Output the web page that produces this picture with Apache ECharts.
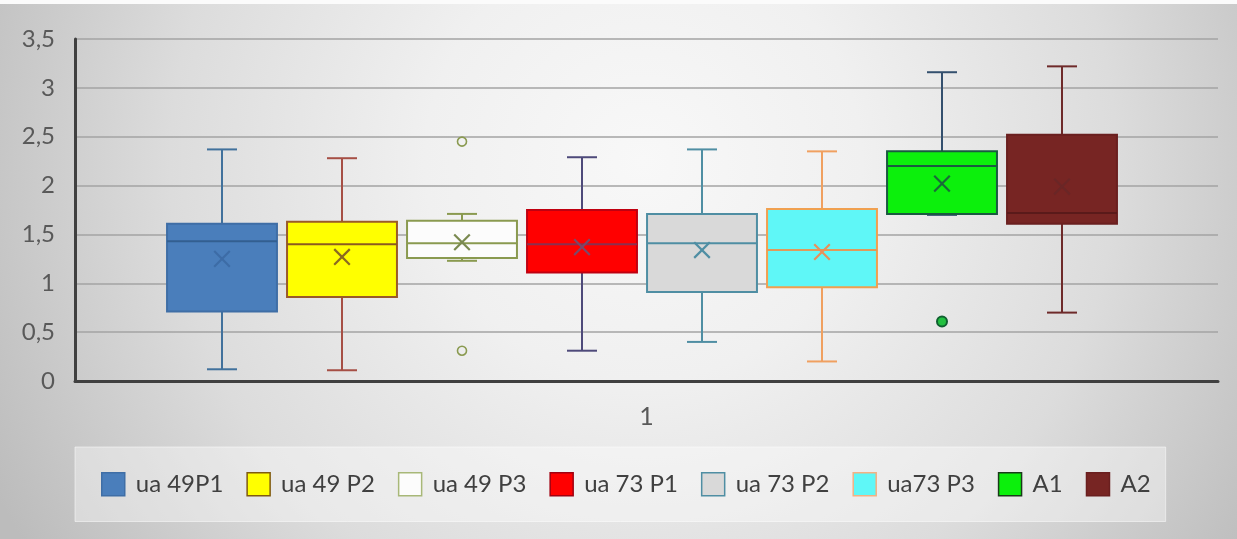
<!DOCTYPE html>
<html>
<head>
<meta charset="utf-8">
<script src="https://cdn.jsdelivr.net/npm/echarts@6/dist/echarts.min.js"></script>
<style>html,body{margin:0;padding:0;}#chart{width:1237px;height:539px;}</style>
</head>
<body>
<div id="chart"></div>
<script>
// ---- data ----
const groups = ['ua 49P1', 'ua 49 P2', 'ua 49 P3', 'ua 73 P1', 'ua 73 P2', 'ua73 P3', 'A1', 'A2'];
const xCategories = ['1'];
const minVals    = [0.12, 0.11, 1.23, 0.31, 0.40, 0.20, 1.70, 0.70];
const q1Vals     = [0.71, 0.86, 1.26, 1.11, 0.91, 0.96, 1.71, 1.61];
const medianVals = [1.43, 1.40, 1.41, 1.40, 1.41, 1.34, 2.20, 1.72];
const q3Vals     = [1.61, 1.63, 1.64, 1.75, 1.71, 1.76, 2.35, 2.52];
const maxVals    = [2.37, 2.28, 1.71, 2.29, 2.37, 2.35, 3.16, 3.22];
const meanVals   = [1.25, 1.27, 1.42, 1.37, 1.34, 1.32, 2.02, 1.99];
const outlierVals = [[], [], [2.45, 0.31], [], [], [], [0.61], []];
const yTicks = [0, 0.5, 1, 1.5, 2, 2.5, 3, 3.5];

// ---- styles ----
const styles = [
  {fill: '#4a7ebb', border: '#3f6ea6', median: '#335f90', mean: '#3d6ca6', whisker: '#41719c'},
  {fill: '#ffff00', border: '#9a5a28', median: '#8b5a20', mean: '#8b6a20', whisker: '#a64f45'},
  {fill: '#fcfcfc', border: '#8a9a50', median: '#8a9a50', mean: '#7a8a50', whisker: '#8a9a50'},
  {fill: '#ff0000', border: '#c00010', median: '#8a3050', mean: '#7a4a6a', whisker: '#4e4a7a'},
  {fill: '#d9d9d9', border: '#4f8ea3', median: '#4f8ea3', mean: '#4f8ea3', whisker: '#4f8ea3'},
  {fill: '#5ff7f7', border: '#f0a050', median: '#e09a5a', mean: '#e8905a', whisker: '#f0a060'},
  {fill: '#0cf00c', border: '#1a5a40', median: '#1a5a40', mean: '#1a6a3a', whisker: '#34506e'},
  {fill: '#772523', border: '#6a1f1f', median: '#5a1a1a', mean: '#6a2626', whisker: '#6e2a2a'}
];
const legendBorders = ['#3f6ea6', '#7f5a10', '#a8b878', '#a00010', '#4f8ea3', '#f4b183', '#1a3a1a', '#6a1f1f'];
const outlierStyles = [null, null,
  {color: 'rgba(255,255,255,0)', borderColor: '#8a9a50', borderWidth: 1.6, size: 9},
  null, null, null,
  {color: '#22c040', borderColor: '#106030', borderWidth: 2, size: 10},
  null];

const fontFam = 'Lato, "Noto Sans", sans-serif';

function makeRender(st) {
  return function (params, api) {
    const k = api.value(0);
    const band = api.size([1, 0])[0];
    const half = band * 0.458, cap = band * 0.125, xh = band * 0.065;
    const c = (v) => api.coord([k, v]);
    const pMin = c(api.value(1)), pQ1 = c(api.value(2)), pMed = c(api.value(3));
    const pQ3 = c(api.value(4)), pMax = c(api.value(5)), pMean = c(api.value(6));
    const x = pMed[0];
    const ws = {stroke: st.whisker, lineWidth: 2};
    const ln = (x1, y1, x2, y2, s) => ({type: 'line', shape: {x1, y1, x2, y2}, style: s});
    return {
      type: 'group',
      children: [
        ln(x, pQ3[1], x, pMax[1], ws),
        ln(x, pQ1[1], x, pMin[1], ws),
        ln(x - cap, pMax[1], x + cap, pMax[1], ws),
        ln(x - cap, pMin[1], x + cap, pMin[1], ws),
        {type: 'rect', shape: {x: x - half, y: pQ3[1], width: half * 2, height: pQ1[1] - pQ3[1]},
         style: {fill: st.fill, stroke: st.border, lineWidth: 2}},
        ln(x - half, pMed[1], x + half, pMed[1], {stroke: st.median, lineWidth: 2}),
        ln(pMean[0] - xh, pMean[1] - xh, pMean[0] + xh, pMean[1] + xh, {stroke: st.mean, lineWidth: 2.2}),
        ln(pMean[0] - xh, pMean[1] + xh, pMean[0] + xh, pMean[1] - xh, {stroke: st.mean, lineWidth: 2.2})
      ]
    };
  };
}

const series = [];
groups.forEach((g, k) => {
  series.push({
    type: 'custom',
    name: g,
    xAxisIndex: 0, yAxisIndex: 0,
    renderItem: makeRender(styles[k]),
    encode: {x: 0, y: [1, 2, 3, 4, 5, 6]},
    itemStyle: {color: styles[k].fill, borderColor: legendBorders[k]},
    data: [[k, minVals[k], q1Vals[k], medianVals[k], q3Vals[k], maxVals[k], meanVals[k]]],
    z: 3
  });
  if (outlierVals[k].length) {
    const os = outlierStyles[k];
    series.push({
      type: 'scatter',
      name: g,
      xAxisIndex: 0, yAxisIndex: 0,
      symbol: 'circle',
      symbolSize: os.size,
      itemStyle: {color: os.color, borderColor: os.borderColor, borderWidth: os.borderWidth, opacity: 1},
      data: outlierVals[k].map(v => [k, v]),
      z: 4
    });
  }
});

const chart = echarts.init(document.getElementById('chart'));
chart.setOption({
  animation: false,
  backgroundColor: {
    type: 'radial', x: 0.52, y: 0.3, r: 1.35,
    colorStops: [
      {offset: 0, color: '#f8f8f8'},
      {offset: 0.3, color: '#f0f0f0'},
      {offset: 0.65, color: '#dcdcdc'},
      {offset: 1, color: '#bcbcbc'}
    ]
  },
  graphic: [{type: 'rect', shape: {x: 0, y: 0, width: 1237, height: 4}, style: {fill: '#fbfbfb'}, z: -1}],
  grid: [
    {left: 162, right: 115, top: 39, bottom: 158},
    {left: 75, right: 19, top: 39, bottom: 158}
  ],
  xAxis: [
    {type: 'category', gridIndex: 0, data: groups, show: false},
    {type: 'category', gridIndex: 1, data: xCategories,
     axisLine: {lineStyle: {color: '#404040', width: 3}},
     axisTick: {show: false},
     axisLabel: {fontSize: 25, color: '#595959', fontFamily: fontFam, margin: 23}}
  ],
  yAxis: [
    {type: 'value', gridIndex: 0, min: 0, max: 3.5, show: false},
    {type: 'value', gridIndex: 1, min: 0, max: 3.5, interval: 0.5,
     axisLine: {show: true, lineStyle: {color: '#404040', width: 3}},
     axisTick: {show: false},
     splitLine: {lineStyle: {color: '#a3a3a3', width: 1.6}},
     axisLabel: {fontSize: 24, color: '#595959', fontFamily: fontFam, margin: 20,
       formatter: v => String(v).replace('.', ',')}}
  ],
  legend: {
    left: 75, top: 447,
    padding: [25, 15, 25, 26],
    backgroundColor: 'rgba(255,255,255,0.38)',
    borderColor: 'rgba(255,255,255,0.5)', borderWidth: 1,
    icon: 'rect',
    itemWidth: 23, itemHeight: 23, itemGap: 23,
    selectedMode: false,
    textStyle: {fontSize: 24, color: '#404040', fontFamily: fontFam, padding: [0, 0, 0, 6]},
    data: groups.map((g, k) => ({
      name: g,
      itemStyle: {color: styles[k].fill, borderColor: legendBorders[k], borderWidth: 1.5}
    }))
  },
  series: series
});
</script>
</body>
</html>
